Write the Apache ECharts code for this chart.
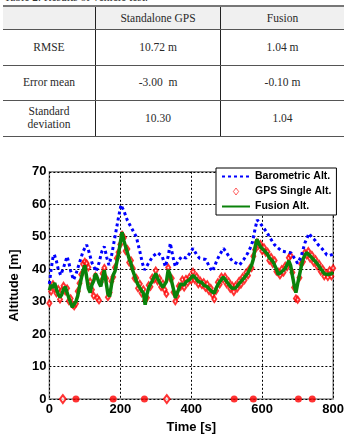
<!DOCTYPE html>
<html>
    <head>
        <meta charset="UTF-8">
        <title></title>
        <script type="text/javascript" src="https://cdn.jsdelivr.net/npm/echarts@6/dist/echarts.min.js"></script>
        <style>
            body { margin: 0; background: #fff; }
            #wrap { position: relative; width: 347px; height: 439px; overflow: hidden; }
            #main { position: absolute; left: 0; top: 0; width: 347px; height: 439px; }
            #cap { position: absolute; left: 4px; top: -9px; font: 11.5px "Liberation Serif", serif; color: #333; }
            table { position: absolute; left: 3px; top: 5px; width: 341px; border-collapse: collapse;
                    font: 11.5px "Liberation Serif", serif; color: #2a2a2a; }
            td { text-align: center; padding: 0; border-bottom: 1.5px solid #555; }
            td + td { border-left: 1px solid #222; }
            tr.head td { background: #f0f0f0; height: 22px; border-top: 2px solid #777; }
            tr.row td { height: 34.5px; line-height: 13px; }
        </style>
    </head>
    <body>
        <div id="wrap">
            <div id="cap">Table 2. Results of vehicle test.</div>
            <table>
                <tr class="head"><td style="width:92px"></td><td style="width:124px">Standalone GPS</td><td>Fusion</td></tr>
                <tr class="row"><td>RMSE</td><td>10.72 m</td><td>1.04 m</td></tr>
                <tr class="row"><td>Error mean</td><td>-3.00&nbsp; m</td><td>-0.10 m</td></tr>
                <tr class="row"><td>Standard<br>deviation</td><td>10.30</td><td>1.04</td></tr>
            </table>
            <div id="main"></div>
        </div>
    </body>
</html>
<script type="text/javascript">
        // barometric altitude [time, alt]
        var baroAlt = [
                [0, 35.5], [5, 40], [10, 43.5], [14, 44.5], [20, 42.5], [25, 40], [32, 38.2], [40, 40.5],
                [50, 43.9], [55, 42], [60, 39.5], [68, 36.7], [75, 38.5], [85, 42], [95, 45.5], [105, 47.5],
                [110, 46], [120, 42], [132, 39.3], [140, 42], [148, 45.5], [155, 47], [162, 43.5], [168, 41.3],
                [175, 44], [185, 50], [195, 56], [202, 59.8], [210, 58], [220, 55], [227, 53.6], [235, 52],
                [245, 50], [255, 45.5], [262, 42], [268, 39.8], [275, 41], [282, 42.3], [292, 44], [305, 45.1],
                [318, 44], [327, 40.8], [335, 44], [341, 48], [348, 44], [355, 40.8], [363, 42.5], [373, 43.9],
                [386, 43.4], [395, 44.8], [405, 46.4], [415, 44.5], [423, 43.4], [441, 43], [450, 41], [459, 39.3],
                [466, 41], [473, 42.9], [482, 44.8], [491, 46.4], [500, 45], [510, 43.3], [518, 42.3], [528, 41.8],
                [536, 41.3], [548, 43], [559, 44.9], [566, 46.5], [573, 48.5], [580, 52.5], [586, 55.2], [595, 54],
                [605, 52.6], [615, 51], [623, 49.5], [635, 47.5], [646, 46.4], [655, 45.6], [664, 45.4], [673, 45.2],
                [682, 45], [690, 43.5], [700, 41.8], [710, 44], [720, 48], [732, 51], [740, 49.8], [748, 49],
                [758, 47.5], [768, 46.4], [775, 45.5], [782, 44.4], [790, 44.2], [800, 44.6]
        ];

        // samples every 5 s, from 0 to 800
        var step = 5;

        // fusion altitude (green)
        var fusionAlt = [
                33.5, 35.2, 34.3, 35.8, 33.8, 32.3, 31.4, 32.2, 33.8, 34.6, 32.7, 31.2, 29.6, 28.3, 27.8, 30.1,
                31.8, 34.6, 37.2, 39.5, 41.2, 37.6, 34.1, 32.8, 35.2, 36.4, 38.6, 37.4, 35.8, 34.7, 37.3, 39.7,
                35.9, 32.4, 31.6, 35.1, 38.2, 39.4, 42.1, 44.6, 48.2, 51.4, 48.8, 46.9, 45.1, 43.2, 41.8, 39.6,
                38.1, 36.4, 35.2, 34.6, 33.4, 32.6, 29.1, 32.3, 34.2, 35.4, 36.3, 37.6, 38.7, 37.2, 36.1, 35.3,
                34.4, 34.8, 36.2, 39.8, 38.4, 36.1, 33.8, 31.2, 30.8, 33.9, 35.4, 35.9, 35.2, 36.1, 36.6, 36.8,
                37.4, 38.1, 37.5, 36.9, 36.2, 35.6, 35.9, 35.1, 35.0, 34.6, 34.1, 33.4, 32.8, 32.6, 34.1, 35.2,
                36.1, 36.8, 37.6, 36.9, 36.2, 35.4, 34.8, 34.1, 33.7, 34.2, 34.9, 35.6, 36.1, 36.8, 37.4, 38.2,
                38.9, 39.4, 41.2, 43.1, 46.8, 49.2, 48.1, 46.9, 46.4, 45.8, 45.9, 44.6, 43.5, 42.9, 42.4, 41.8,
                40.1, 38.4, 38.9, 39.2, 39.7, 40.2, 41.4, 42.6, 41.2, 38.1, 35.2, 32.8, 35.6, 38.2, 40.8, 43.1,
                44.2, 45.1, 44.8, 44.1, 43.6, 42.9, 42.3, 41.7, 40.9, 40.1, 39.4, 38.6, 38.0, 38.4, 38.9, 38.6,
                39.0
        ];

        // GPS single altitude (red diamonds)
        var gpsAlt = [
                29.5, 33.1, 35.4, 34.2, 32.6, 33.9, 30.7, 33.4, 34.9, 33.2, 34.1, 30.2, 31.0, 29.1, 28.6, 29.4,
                33.2, 35.7, 38.4, 41.6, 42.3, 41.8, 40.6, 36.2, 33.7, 31.8, 37.9, 31.2, 30.4, 36.1, 38.7, 40.4,
                37.2, 31.4, 32.8, 36.3, 37.6, 40.5, 43.4, 45.2, 47.6, 50.6, 49.7, 45.6, 46.2, 42.1, 42.7, 40.3,
                37.2, 37.3, 34.1, 35.5, 32.6, 33.8, 30.4, 31.2, 35.1, 34.6, 37.4, 36.8, 39.6, 36.3, 37.2, 34.5,
                35.6, 33.7, 32.4, 40.5, 37.3, 37.2, 32.9, 30.1, 31.7, 34.8, 34.6, 36.8, 34.4, 37.0, 35.8, 37.6,
                36.6, 39.2, 36.7, 37.8, 35.4, 36.5, 35.1, 36.0, 34.3, 35.4, 33.3, 34.2, 32.1, 30.8, 33.4, 36.0,
                35.3, 37.7, 36.8, 37.7, 35.4, 36.3, 34.0, 35.0, 33.0, 35.0, 34.1, 36.4, 35.3, 37.6, 36.6, 39.0,
                38.1, 40.3, 40.4, 44.0, 46.0, 48.3, 47.3, 47.8, 45.6, 46.7, 45.1, 45.4, 42.7, 43.8, 41.6, 42.7,
                39.3, 39.2, 38.1, 40.0, 39.0, 41.1, 40.6, 43.5, 44.2, 39.0, 34.4, 31.0, 30.6, 37.4, 41.6, 42.3,
                45.1, 44.3, 45.6, 43.3, 44.4, 42.1, 43.1, 40.9, 41.7, 39.3, 40.2, 37.8, 38.8, 37.6, 39.7, 37.8,
                40.3
        ];

        // GPS dropouts sitting at 0 m
        var gpsZeroSingle = [38, 331];
        var gpsZeroCluster = [75, 180, 268, 521, 575, 702, 741];

        var xTicks = [0, 200, 400, 600, 800];
        var yTicks = [0, 10, 20, 30, 40, 50, 60, 70];

        function withTime(arr) {
                var out = [];
                for (var i = 0; i < arr.length; i++) out.push([i * step, arr[i]]);
                return out;
        }
        function atZero(arr) {
                return arr.map(function (t) { return [t, 0]; });
        }

        var myChart = echarts.init(document.getElementById('main'));
        var font = 'Liberation Sans, Arial, sans-serif';
        var dotted = { color: '#000', type: [2, 2], width: 1 };

        option = {
                animation: false,
                grid: { left: 43.3, right: 10.3, top: 171.8, bottom: 39.7, show: true, borderColor: '#888', borderWidth: 1.5 },
                legend: {
                        orient: 'vertical', left: 216, top: 168,
                        backgroundColor: '#fff', borderColor: '#000', borderWidth: 1,
                        padding: [2, 5, 2, 5], itemGap: 2, itemWidth: 28, itemHeight: 7,
                        textStyle: { fontFamily: font, fontWeight: 'bold', fontSize: 10.5, color: '#000', lineHeight: 13 },
                        data: [
                                // line icons only, no marker in the middle
                                { name: 'Barometric Alt.', itemStyle: { opacity: 0 } },
                                { name: 'GPS Single Alt.', icon: 'path://M3,0L6,4L3,8L0,4Z',
                                  itemStyle: { color: '#fff', borderColor: '#ff0000', borderWidth: 0.8 } },
                                { name: 'Fusion Alt.', itemStyle: { opacity: 0 } }
                        ]
                },
                xAxis: {
                        type: 'value', min: xTicks[0], max: xTicks[xTicks.length - 1], interval: 200,
                        name: 'Time [s]', nameLocation: 'middle', nameGap: 18,
                        nameTextStyle: { fontFamily: font, fontWeight: 'bold', fontSize: 13, color: '#000' },
                        axisLine: { show: false }, axisTick: { show: false },
                        axisLabel: { margin: 4, fontFamily: font, fontWeight: 'bold', fontSize: 13, color: '#000' },
                        splitLine: { lineStyle: dotted }
                },
                yAxis: {
                        type: 'value', min: yTicks[0], max: yTicks[yTicks.length - 1], interval: 10,
                        name: 'Altitude [m]', nameLocation: 'middle', nameGap: 25,
                        nameTextStyle: { fontFamily: font, fontWeight: 'bold', fontSize: 13, color: '#000' },
                        axisLine: { show: false }, axisTick: { show: false },
                        axisLabel: { margin: 3, fontFamily: font, fontWeight: 'bold', fontSize: 13, color: '#000' },
                        splitLine: { lineStyle: dotted }
                },
                series: [{
                        name: 'GPS Single Alt.',
                        type: 'scatter',
                        symbol: 'emptyDiamond',
                        symbolSize: [4, 6],
                        itemStyle: { color: '#ff0000', borderWidth: 0.6 },
                        data: withTime(gpsAlt),
                        z: 2
                }, {
                        name: 'GPS Single Alt.',
                        type: 'scatter',
                        symbol: 'emptyDiamond',
                        symbolSize: [6, 8],
                        itemStyle: { color: '#ff0000', borderWidth: 1 },
                        data: atZero(gpsZeroSingle),
                        z: 2
                }, {
                        name: 'GPS Single Alt.',
                        type: 'scatter',
                        symbol: 'circle',
                        symbolSize: 7,
                        itemStyle: { color: '#ff0000' },
                        data: atZero(gpsZeroCluster),
                        z: 2
                }, {
                        name: 'Fusion Alt.',
                        type: 'line',
                        showSymbol: false, symbol: 'none',
                        itemStyle: { color: '#0a820a' },
                        lineStyle: { color: '#0a820a', width: 3.5 },
                        data: withTime(fusionAlt),
                        z: 3
                }, {
                        name: 'Barometric Alt.',
                        type: 'line',
                        showSymbol: false, symbol: 'none',
                        itemStyle: { color: '#0000ff' },
                        lineStyle: { color: '#0000ff', width: 3, type: [3, 3] },
                        data: baroAlt,
                        z: 4
                }]
        };
        myChart.setOption(option);
</script>
